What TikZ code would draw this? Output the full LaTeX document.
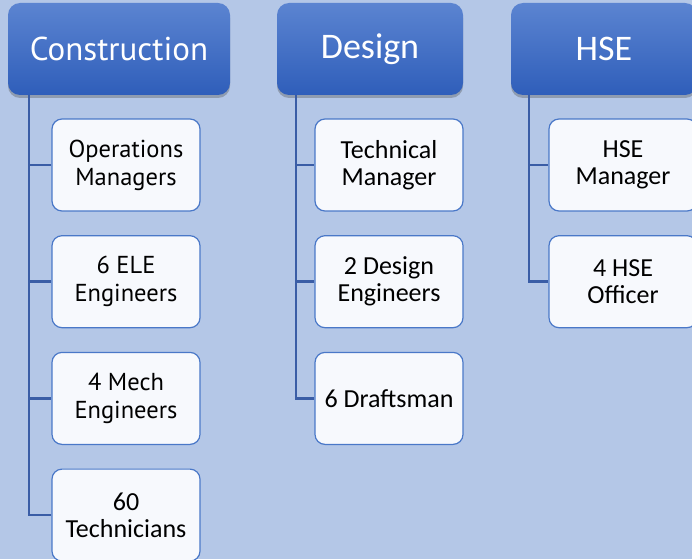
\documentclass[tikz,border=0pt]{standalone}
\usepackage{fontspec}
\setmainfont{Carlito}
\newfontfamily\dinfont{PT Sans}
\usepackage{xcolor}
\usetikzlibrary{positioning,shadows,calc}
\definecolor{bgBlue}{HTML}{B4C7E7}
\definecolor{headTop}{HTML}{5B84D1}
\definecolor{headBot}{HTML}{2F5EBA}
\definecolor{roleLine}{HTML}{4A78C8}
\definecolor{roleFill}{HTML}{F7F9FD}
\definecolor{linkBlue}{HTML}{3A5DA6}
\tikzstyle{nodeHead} =[rounded corners=12pt, top color=headTop, bottom color=headBot,
  text=white, minimum height=92pt, inner sep=0pt, font=\fontsize{36}{40}\selectfont,
  drop shadow={shadow xshift=0pt, shadow yshift=-3pt, opacity=0.35, fill=black!70}]
\tikzstyle{nodeRole} =[rounded corners=10pt, draw=roleLine, fill=roleFill, line width=1.2pt,
  minimum width=148pt, minimum height=92pt, inner sep=0pt, align=center,
  font=\fontsize{26}{27}\selectfont]
\tikzstyle{nodeRoleDin} =[nodeRole, font=\fontsize{24.5}{28}\selectfont\dinfont]
\tikzstyle{link} =[draw=linkBlue, line width=2.5pt]

\begin{document}
\begin{tikzpicture}[x=1pt, y=-1pt, on grid]
      \useasboundingbox (0,0) rectangle (692,559);
      \fill[bgBlue] (0,0) rectangle (692,559);
      \clip (0,0) rectangle (692,559);
      % heads
      \node[nodeHead, minimum width=222pt, font=\fontsize{33}{38}\selectfont\dinfont] (con) at (119,49) {Construction};
      \node[nodeHead, minimum width=186pt] (des) at (370,49) {Design};
      \node[nodeHead, minimum width=186pt] (hse) at (604,49) {HSE};
      % construction
      \node[nodeRoleDin] (con1) at (126,165) {Operations\\Managers};
      \node[nodeRoleDin] (con2) [below=116.7pt of con1] {6 ELE\\Engineers};
      \node[nodeRoleDin] (con3) [below=116.7pt of con2] {4 Mech\\Engineers};
      \node[nodeRole] (con4) [below=116.7pt of con3] {60\\Technicians};
      % design
      \node[nodeRole] (des1) at (389,165) {Technical\\Manager};
      \node[nodeRole] (des2) [below=116.7pt of des1] {2 Design\\Engineers};
      \node[nodeRole] (des3) [below=116.7pt of des2] {6 Draftsman};
      % hse
      \node[nodeRole] (hse1) at (623,165) {HSE\\Manager};
      \node[nodeRole] (hse2) [below=116.7pt of hse1] {4 HSE\\Officer};
      % links
      \foreach \n in {con1,con2,con3,con4}
        \draw[link] ($(con.south west)+(21pt,0)$) |- (\n.west);
      \foreach \n in {des1,des2,des3}
        \draw[link] ($(des.south west)+(19pt,0)$) |- (\n.west);
      \foreach \n in {hse1,hse2}
        \draw[link] ($(hse.south west)+(18pt,0)$) |- (\n.west);
\end{tikzpicture}
\end{document}
